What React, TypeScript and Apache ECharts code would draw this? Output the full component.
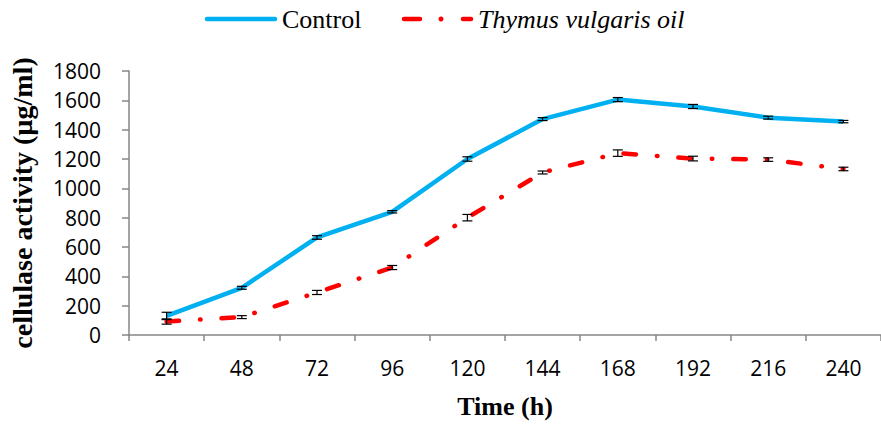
import React, { useEffect, useRef } from "react";
import * as echarts from "echarts";

const categories = ["24", "48", "72", "96", "120", "144", "168", "192", "216", "240"];
const controlValues = [130, 322, 665, 840, 1200, 1472, 1605, 1558, 1482, 1455];
const controlErrors = [25, 10, 12, 8, 15, 10, 14, 14, 10, 8];
const thymusValues = [92, 122, 290, 460, 800, 1108, 1240, 1203, 1196, 1132];
const thymusErrors = [18, 10, 14, 14, 22, 10, 22, 16, 12, 12];
const yTicks = { min: 0, max: 1800, interval: 200 };
const seriesNames = ["Control", "Thymus vulgaris oil"];

const BLUE = "#00B0F0";
const RED = "#FF0000";
const AXIS = "#868686";

function errorSeries(name: string, values: number[], errors: number[]) {
  return {
    type: "custom",
    name: name + "-err",
    z: 5,
    silent: true,
    data: values.map((v, i) => [i, v, errors[i]]),
    renderItem: (params: any, api: any) => {
      const x = api.value(0);
      const v = api.value(1);
      const e = api.value(2);
      const hi = api.coord([x, v + e]);
      const lo = api.coord([x, v - e]);
      const hw = 5;
      const style = { stroke: "#000", lineWidth: 1.2 };
      return {
        type: "group",
        children: [
          { type: "line", shape: { x1: hi[0], y1: hi[1], x2: lo[0], y2: lo[1] }, style },
          { type: "line", shape: { x1: hi[0] - hw, y1: hi[1], x2: hi[0] + hw, y2: hi[1] }, style },
          { type: "line", shape: { x1: lo[0] - hw, y1: lo[1], x2: lo[0] + hw, y2: lo[1] }, style },
        ],
      };
    },
  };
}

export default function App() {
  const ref = useRef<HTMLDivElement>(null);
  useEffect(() => {
    document.body.style.margin = "0";
    const chart = echarts.init(ref.current!, null, { renderer: "svg" });
    const ly = 19;
    chart.setOption({
      animation: false,
      backgroundColor: "#fff",
      legend: { show: false },
      graphic: [
        {
          type: "line",
          shape: { x1: 207, y1: ly, x2: 275, y2: ly },
          style: { stroke: BLUE, lineWidth: 4.5, lineCap: "round" },
        },
        {
          type: "text",
          x: 282,
          y: ly,
          style: {
            text: seriesNames[0],
            fontFamily: "Liberation Serif",
            fontSize: 26,
            fill: "#000",
            verticalAlign: "middle",
          },
        },
        {
          type: "line",
          shape: { x1: 404, y1: ly, x2: 420, y2: ly },
          style: { stroke: RED, lineWidth: 4.5, lineCap: "round" },
        },
        { type: "circle", shape: { cx: 441, cy: ly, r: 2.5 }, style: { fill: RED } },
        {
          type: "line",
          shape: { x1: 463, y1: ly, x2: 471, y2: ly },
          style: { stroke: RED, lineWidth: 4.5, lineCap: "round" },
        },
        {
          type: "text",
          x: 478,
          y: ly,
          style: {
            text: seriesNames[1],
            fontFamily: "Liberation Serif",
            fontStyle: "italic",
            fontSize: 26,
            fill: "#000",
            verticalAlign: "middle",
          },
        },
      ],
      grid: { left: 122, top: 71, height: 267, width: 767 },
      xAxis: {
        type: "category",
        data: categories,
        boundaryGap: true,
        axisLine: { lineStyle: { color: AXIS, width: 1.5 } },
        axisTick: { show: true, alignWithLabel: false, length: 6, lineStyle: { color: AXIS, width: 1.5 } },
        axisLabel: { fontFamily: "Open Sans", fontSize: 21, color: "#000", margin: 22 },
        name: "Time (h)",
        nameLocation: "middle",
        nameGap: 58,
        nameTextStyle: { fontFamily: "Liberation Serif", fontWeight: "bold", fontSize: 26, color: "#000" },
      },
      yAxis: {
        type: "value",
        min: yTicks.min,
        max: yTicks.max,
        interval: yTicks.interval,
        splitLine: { show: false },
        axisLine: { show: true, lineStyle: { color: AXIS, width: 1.5 } },
        axisTick: { show: true, length: 7, lineStyle: { color: AXIS, width: 1.5 } },
        axisLabel: {
          fontFamily: "Open Sans",
          fontSize: 21,
          color: "#000",
          margin: 28,
          formatter: (v: number) => String(v),
        },
        name: "cellulase activity (µg/ml)",
        nameLocation: "middle",
        nameGap: 93,
        nameTextStyle: { fontFamily: "Liberation Serif", fontWeight: "bold", fontSize: 28, color: "#000" },
      },
      series: [
        {
          type: "line",
          name: seriesNames[0],
          data: controlValues,
          symbol: "none",
          z: 3,
          itemStyle: { color: BLUE },
          lineStyle: { color: BLUE, width: 4.5 },
        },
        {
          type: "line",
          name: seriesNames[1],
          data: thymusValues,
          symbol: "none",
          z: 3,
          itemStyle: { color: RED },
          lineStyle: { color: RED, width: 4.5, type: [12.5, 21, 0.5, 21], cap: "round" },
        },
        errorSeries("Control", controlValues, controlErrors),
        errorSeries("Thymus", thymusValues, thymusErrors),
      ],
    });
    return () => chart.dispose();
  }, []);
  return <div ref={ref} style={{ width: 881, height: 424 }} />;
}
